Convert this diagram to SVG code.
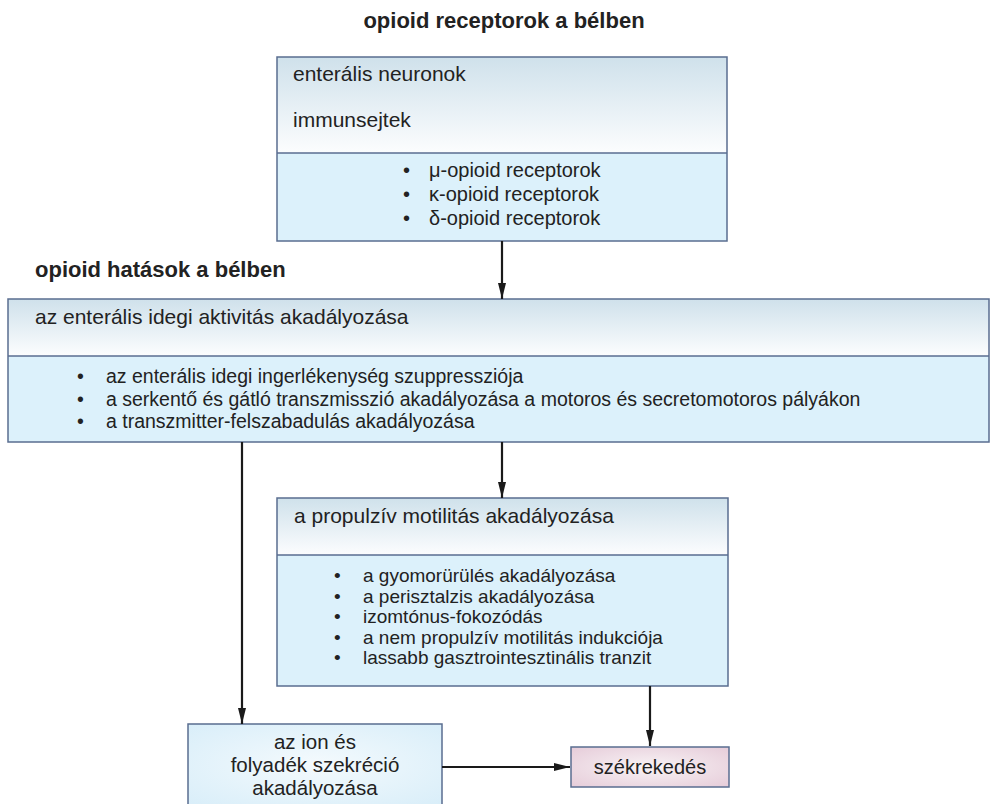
<svg xmlns="http://www.w3.org/2000/svg" width="990" height="804" viewBox="0 0 990 804">
<defs>
<linearGradient id="hdr" x1="0" y1="0" x2="0" y2="1">
<stop offset="0" stop-color="#cfe1eb"/>
<stop offset="1" stop-color="#fcfdfe"/>
</linearGradient>
<radialGradient id="blue" cx="0.5" cy="0.5" r="0.7">
<stop offset="0" stop-color="#f4fafd"/>
<stop offset="1" stop-color="#d9eef9"/>
</radialGradient>
<radialGradient id="pink" cx="0.5" cy="0.5" r="0.7">
<stop offset="0" stop-color="#f8f3f5"/>
<stop offset="1" stop-color="#e6ccd9"/>
</radialGradient>
<marker id="arr" viewBox="0 0 16 8" refX="16" refY="4" markerWidth="16" markerHeight="8" markerUnits="userSpaceOnUse" orient="auto">
<path d="M0,0 L16,4 L0,8 z" fill="#1a1a1a"/>
</marker>
</defs>
<style>
text{font-family:"Liberation Sans",Arial,sans-serif;fill:#222;}
.h{font-size:22px;font-weight:bold;}
.t{font-size:21px;}
.b{font-size:20px;}
.s{font-size:19.5px;}
.m{font-size:19px;}
.box{stroke:#5a6d90;stroke-width:1.5;}
.div{stroke:#5a6d90;stroke-width:1.5;}
.lst{fill:#dcf1fb;}
.c{text-anchor:middle;}
.con{stroke:#1a1a1a;stroke-width:2.2;fill:none;}
</style>
<text class="h" x="504" y="28" text-anchor="middle">opioid receptorok a bélben</text>
<text class="h" x="35" y="277">opioid hatások a bélben</text>

<g id="receptors">
<rect x="277" y="57" width="450" height="96" fill="url(#hdr)"/>
<rect x="277" y="153" width="450" height="88" class="lst"/>
<rect x="277" y="57" width="450" height="184" fill="none" class="box"/>
<line x1="277" y1="153" x2="727" y2="153" class="div"/>
<text class="t" x="293" y="81">enterális neuronok</text>
<text class="t" x="293" y="127">immunsejtek</text>
<text class="b" x="403" y="177">•</text><text class="b" x="429" y="177">μ-opioid receptorok</text>
<text class="b" x="403" y="201">•</text><text class="b" x="429" y="201">κ-opioid receptorok</text>
<text class="b" x="403" y="225">•</text><text class="b" x="429" y="225">δ-opioid receptorok</text>
</g>

<g id="effects">
<rect x="8" y="299" width="981" height="57" fill="url(#hdr)"/>
<rect x="8" y="356" width="981" height="86" class="lst"/>
<rect x="8" y="299" width="981" height="143" fill="none" class="box"/>
<line x1="8" y1="356" x2="989" y2="356" class="div"/>
<text class="t" x="35" y="324">az enterális idegi aktivitás akadályozása</text>
<text class="s" x="77" y="383">•</text><text class="s" x="106" y="383">az enterális idegi ingerlékenység szuppressziója</text>
<text class="s" x="77" y="406">•</text><text class="s" x="106" y="406">a serkentő és gátló transzmisszió akadályozása a motoros és secretomotoros pályákon</text>
<text class="s" x="77" y="428">•</text><text class="s" x="106" y="428">a transzmitter-felszabadulás akadályozása</text>
</g>

<g id="motility">
<rect x="277" y="498" width="451" height="57" fill="url(#hdr)"/>
<rect x="277" y="555" width="451" height="131" class="lst"/>
<rect x="277" y="498" width="451" height="188" fill="none" class="box"/>
<line x1="277" y1="555" x2="728" y2="555" class="div"/>
<text class="t" x="294" y="523">a propulzív motilitás akadályozása</text>
<text class="m" x="334" y="582">•</text><text class="m" x="363" y="582">a gyomorürülés akadályozása</text>
<text class="m" x="334" y="602.5">•</text><text class="m" x="363" y="602.5">a perisztalzis akadályozása</text>
<text class="m" x="334" y="623">•</text><text class="m" x="363" y="623">izomtónus-fokozódás</text>
<text class="m" x="334" y="643.5">•</text><text class="m" x="363" y="643.5">a nem propulzív motilitás indukciója</text>
<text class="m" x="334" y="664">•</text><text class="m" x="363" y="664">lassabb gasztrointesztinális tranzit</text>
</g>

<g id="secretion">
<rect x="188" y="724" width="254" height="81" fill="url(#blue)" class="box"/>
<text class="b c" x="315" y="749" style="font-size:20.5px">az ion és</text>
<text class="b c" x="315" y="772" style="font-size:20.5px">folyadék szekréció</text>
<text class="b c" x="315" y="795" style="font-size:20.5px">akadályozása</text>
</g>

<g id="constipation">
<rect x="571" y="747" width="158" height="40" fill="url(#pink)" class="box"/>
<text class="b c" x="650" y="774">székrekedés</text>
</g>

<g id="connectors">
<line x1="502" y1="241" x2="502" y2="299" class="con" marker-end="url(#arr)"/>
<line x1="502" y1="442" x2="502" y2="498" class="con" marker-end="url(#arr)"/>
<line x1="242" y1="442" x2="242" y2="724" class="con" marker-end="url(#arr)"/>
<line x1="650" y1="686" x2="650" y2="746" class="con" marker-end="url(#arr)"/>
<line x1="442" y1="767" x2="570" y2="767" class="con" marker-end="url(#arr)"/>
</g>
</svg>
